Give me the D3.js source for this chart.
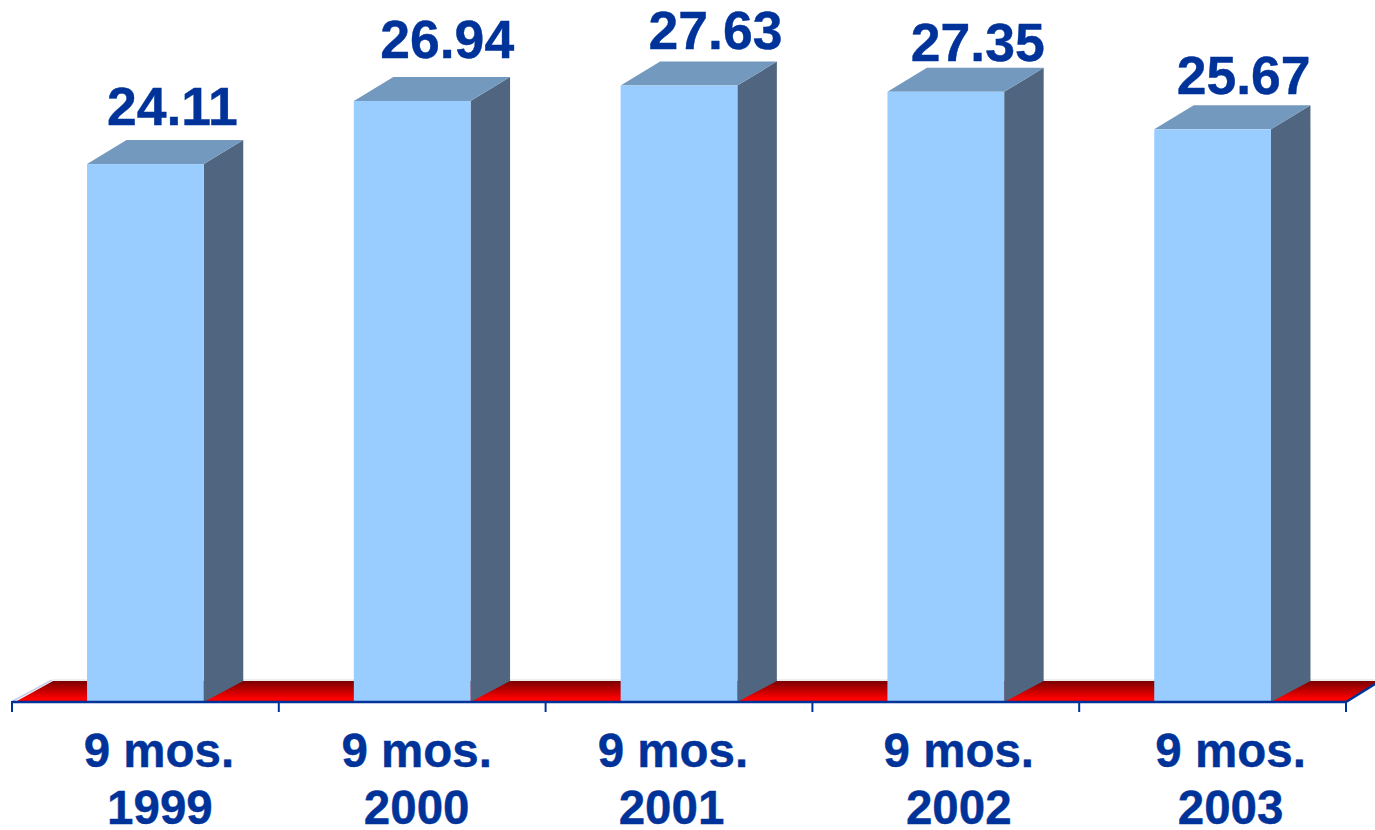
<!DOCTYPE html>
<html><head><meta charset="utf-8">
<script src="https://cdn.jsdelivr.net/npm/d3@7"></script>
<style>html,body{margin:0;padding:0;background:#fff;overflow:hidden}svg{display:block}text{font-family:"Liberation Sans",Arial,sans-serif;font-weight:bold;fill:#003399;stroke:#003399;stroke-width:.4px}</style>
</head><body><svg id="c" width="1375" height="830"></svg>
<script>
const periods = ["9 mos.", "9 mos.", "9 mos.", "9 mos.", "9 mos."];
const years = ["1999", "2000", "2001", "2002", "2003"];
const values = [24.11, 26.94, 27.63, 27.35, 25.67];

// layout (not data)
const baseY = 702, depthX = 39.5, depthY = 24, floorDX = 38, floorDY = 21;
const catLabelShift = [13.5, 4.5, -6, 13, 18];
const catLabelShift2 = [14.5, 4.5, -7.5, 13, 18];
const valLabelShift = [27, 35, 36.5, 32, 31];
const valLabelRise = [39, 43, 37, 31, 35];

const svg = d3.select("#c");
const x = d3.scaleBand().domain(years).range([12, 1346]).paddingInner(0.5625).paddingOuter(0.28125);
const y = d3.scaleLinear().domain([0, 30]).range([baseY, baseY - 30 * 22.31]);

const defs = svg.append("defs");
const g = defs.append("linearGradient").attr("id", "floor").attr("x1", 0).attr("x2", 0).attr("y1", 0).attr("y2", 1);
g.append("stop").attr("offset", 0).attr("stop-color", "#7a0000");
g.append("stop").attr("offset", 0.85).attr("stop-color", "#ff0000");
g.append("stop").attr("offset", 1).attr("stop-color", "#ff0000");

const [x0, x1] = x.range();
const pts = a => a.map(p => p.join(",")).join(" ");
// floor
svg.append("polygon").attr("fill", "url(#floor)")
  .attr("points", pts([[x0 + 3, baseY], [x0 + 3 + floorDX, baseY - floorDY], [1375, baseY - floorDY], [1375, baseY - floorDY + 3], [x1, baseY]]));
svg.append("line").attr("x1", x0 + 41).attr("x2", 1375).attr("y1", baseY - floorDY - 1).attr("y2", baseY - floorDY - 1).attr("stroke", "#dcdcdc").attr("stroke-width", 1);
svg.append("line").attr("x1", x0 + 1).attr("y1", baseY - 1).attr("x2", x0 + 40).attr("y2", baseY - floorDY - 1).attr("stroke", "#c4cfe8").attr("stroke-width", 1.5);

// bars
const bars = svg.append("g").selectAll("g").data(values).join("g");
const bw = x.bandwidth();
bars.append("polygon").attr("fill", "#506680").attr("points", (d, i) => {
  const r = x(years[i]) + bw;
  return pts([[r, y(d)], [r + depthX, y(d) - depthY], [r + depthX, baseY - depthY + 3], [r, baseY]]);
});
bars.append("polygon").attr("fill", "#7399bf").attr("points", (d, i) => {
  const l = x(years[i]);
  return pts([[l, y(d)], [l + depthX, y(d) - depthY], [l + bw + depthX, y(d) - depthY], [l + bw, y(d)]]);
});
bars.append("rect").attr("fill", "#99ccff")
  .attr("x", (d, i) => x(years[i])).attr("width", bw)
  .attr("y", d => y(d)).attr("height", d => baseY - y(d));

// axis
const edges = d3.range(years.length + 1).map(i => x0 + i * x.step());
svg.append("line").attr("x1", x0).attr("x2", x1).attr("y1", baseY).attr("y2", baseY).attr("stroke", "#003399").attr("stroke-width", 2.4);
svg.selectAll(".tick").data(edges).join("line").attr("class", "tick")
  .attr("x1", d => d).attr("x2", d => d).attr("y1", baseY - 1).attr("y2", baseY + 10)
  .attr("stroke", "#003399").attr("stroke-width", 2);
svg.append("line").attr("x1", x1).attr("y1", baseY).attr("x2", 1375).attr("y2", baseY - floorDY + 3).attr("stroke", "#003399").attr("stroke-width", 2.4);

// labels
svg.append("g").selectAll("text").data(values).join("text")
  .attr("text-anchor", "middle").attr("font-size", 53.5)
  .attr("x", (d, i) => x(years[i]) + bw / 2 + valLabelShift[i])
  .attr("y", (d, i) => y(d) - valLabelRise[i])
  .text(d => d.toFixed(2));
svg.append("g").selectAll("text").data(periods).join("text")
  .attr("text-anchor", "middle").attr("font-size", 47.5)
  .attr("x", (d, i) => x(years[i]) + bw / 2 + catLabelShift[i])
  .attr("y", 767).text(d => d);
svg.append("g").selectAll("text").data(years).join("text")
  .attr("text-anchor", "middle").attr("font-size", 47.5)
  .attr("x", (d, i) => x(years[i]) + bw / 2 + catLabelShift2[i])
  .attr("y", 824).text(d => d);
</script></body></html>
